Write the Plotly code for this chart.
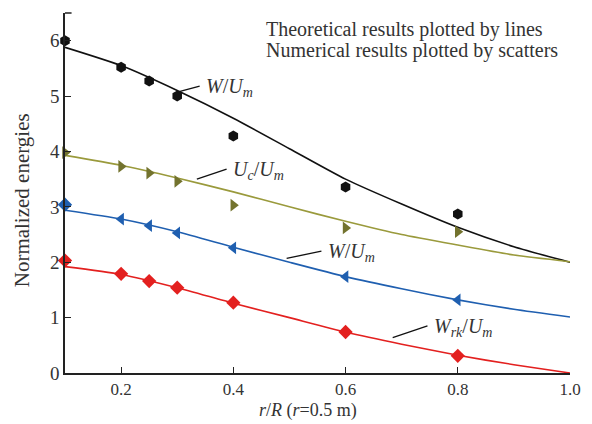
import plotly.graph_objects as go

# Numerical results (scatters)
x_num = [0.1, 0.2, 0.25, 0.3, 0.4, 0.6, 0.8]
w_total_num = [6.0, 5.52, 5.27, 5.0, 4.28, 3.36, 2.87]
uc_num = [3.98, 3.73, 3.61, 3.46, 3.03, 2.62, 2.55]
w_num = [3.04, 2.78, 2.66, 2.53, 2.26, 1.74, 1.32]
wrk_num = [2.03, 1.79, 1.66, 1.54, 1.27, 0.74, 0.31]

# Theoretical results (lines)
x_th = [0.1, 0.2, 0.3, 0.4, 0.5, 0.6, 0.7, 0.8, 0.9, 1.0]
w_total_th = [5.88, 5.55, 5.1, 4.6, 4.05, 3.5, 3.05, 2.63, 2.28, 2.0]
uc_th = [3.93, 3.75, 3.52, 3.27, 3.0, 2.74, 2.5, 2.31, 2.13, 2.01]
w_th = [2.94, 2.78, 2.55, 2.27, 2.0, 1.74, 1.52, 1.32, 1.15, 1.01]
wrk_th = [1.92, 1.78, 1.54, 1.26, 1.0, 0.74, 0.52, 0.32, 0.15, 0.0]

x_ticks = [0.2, 0.4, 0.6, 0.8, 1.0]
x_ticklabels = ["0.2", "0.4", "0.6", "0.8", "1.0"]
y_ticks = [0, 1, 2, 3, 4, 5, 6]

BLACK = "#111111"
OLIVE_LINE = "#9a9a3c"
OLIVE_MK = "#73732e"
BLUE = "#1f5fb0"
RED = "#e3201f"

FONT = "Liberation Serif"
TXT = "#333333"

fig = go.Figure()

def add_line(y, color):
    fig.add_trace(go.Scatter(x=x_th, y=y, mode="lines",
                             line=dict(color=color, width=1.6, shape="spline", smoothing=0.6),
                             showlegend=False, hoverinfo="skip"))

def add_pts(y, color, symbols):
    fig.add_trace(go.Scatter(x=x_num, y=y, mode="markers",
                             marker=dict(color=color, size=11, symbol=symbols, line=dict(width=0)),
                             showlegend=False, cliponaxis=False))

add_line(w_total_th, BLACK)
add_line(uc_th, OLIVE_LINE)
add_line(w_th, BLUE)
add_line(wrk_th, RED)

add_pts(w_total_num, BLACK, "hexagon")
add_pts(uc_num, OLIVE_MK, "triangle-right")
add_pts(w_num, BLUE, ["diamond"] + ["triangle-left"] * (len(x_num) - 1))
add_pts(wrk_num, RED, "diamond")

# Leader lines and labels
leaders = [
    ((0.3, 5.07), (0.34, 5.18), "<i>W</i>/<i>U<sub>m</sub></i>"),
    ((0.335, 3.5), (0.388, 3.68), "<i>U<sub>c</sub></i>/<i>U<sub>m</sub></i>"),
    ((0.495, 2.07), (0.557, 2.2), "<i>W</i>/<i>U<sub>m</sub></i>"),
    ((0.684, 0.64), (0.746, 0.85), "<i>W<sub>rk</sub></i>/<i>U<sub>m</sub></i>"),
]
for (x0, y0), (x1, y1), label in leaders:
    fig.add_shape(type="line", x0=x0, y0=y0, x1=x1, y1=y1, line=dict(color=BLACK, width=1.3))
    fig.add_annotation(x=x1 + 0.008, y=y1 - 0.02, text=label, showarrow=False, xanchor="left", yanchor="middle",
                       font=dict(family=FONT, size=20, color=TXT))

fig.add_annotation(xref="paper", yref="paper", x=0.395, y=0.955, xanchor="left", yanchor="middle",
                   text="Theoretical results plotted by lines", showarrow=False,
                   font=dict(family=FONT, size=20, color=TXT))
fig.add_annotation(xref="paper", yref="paper", x=0.395, y=0.895, xanchor="left", yanchor="middle",
                   text="Numerical results plotted by scatters", showarrow=False,
                   font=dict(family=FONT, size=20, color=TXT))

# Axis titles
fig.add_annotation(xref="paper", yref="paper", x=0.482, y=-0.135, xanchor="center", yanchor="bottom",
                   text="<i>r</i>/<i>R</i> (<i>r</i>=0.5 m)", showarrow=False, borderpad=0,
                   font=dict(family=FONT, size=18, color=TXT))
fig.add_annotation(xref="paper", yref="paper", x=-0.085, y=0.48, xanchor="center", yanchor="middle",
                   text="Normalized energies", showarrow=False, textangle=-90,
                   font=dict(family=FONT, size=21, color=TXT))

# top cap on y axis
fig.add_shape(type="line", xref="paper", yref="paper", x0=0, x1=0.013, y0=1, y1=1,
              line=dict(color="#222222", width=1.5))

fig.update_layout(
    width=592, height=424,
    margin=dict(l=65, r=22, t=13, b=51),
    paper_bgcolor="white", plot_bgcolor="white",
    font=dict(family=FONT, size=17, color=TXT),
    xaxis=dict(range=[0.1, 1.0], tickvals=x_ticks, ticktext=x_ticklabels, ticks="inside", ticklen=6,
               tickcolor="#222222", showline=True, linecolor="#222222", linewidth=1.5, showgrid=False,
               zeroline=False, automargin=False, tickfont=dict(family=FONT, size=17, color=TXT)),
    yaxis=dict(range=[0, 6.5], tickvals=y_ticks, ticks="inside", ticklen=6,
               tickcolor="#222222", showline=True, linecolor="#222222", linewidth=1.5, showgrid=False,
               zeroline=False, automargin=False, tickfont=dict(family=FONT, size=19, color=TXT)),
)

fig.write_html("out.html")
